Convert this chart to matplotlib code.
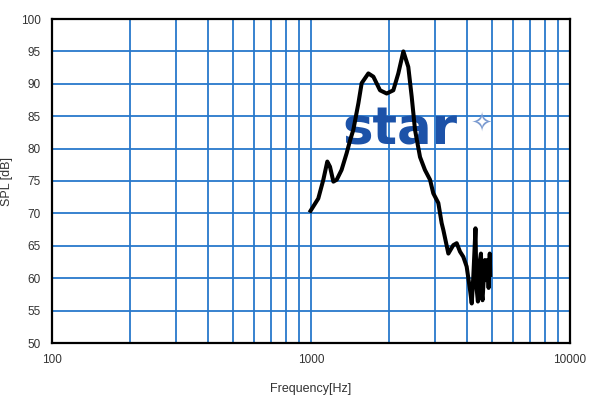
import matplotlib
matplotlib.use("Agg")
import matplotlib.pyplot as plt
from matplotlib.ticker import FixedLocator, NullFormatter, LogLocator

freq = [996, 1067, 1116, 1156, 1184, 1220, 1257, 1312, 1373, 1416, 1457, 1524,
        1569, 1665, 1741, 1847, 1960, 2079, 2173, 2273, 2375, 2448, 2521, 2636,
        2754, 2881, 2966, 3102, 3195, 3245, 3391, 3543, 3652, 3761, 3873, 3990,
        4111, 4174, 4233, 4316, 4352, 4410, 4470, 4531, 4560, 4594, 4690, 4730,
        4800, 4850, 4900, 4920]
spl = [70.4, 72.3, 75.2, 78.0, 77.2, 74.9, 75.2, 76.7, 79.3, 81.3, 82.9, 87.0,
       90.1, 91.6, 91.1, 89.0, 88.5, 89.0, 91.6, 95.0, 92.6, 88.0, 82.9, 78.7,
       76.7, 75.2, 73.1, 71.6, 68.5, 67.4, 63.8, 65.1, 65.4, 64.1, 63.3, 61.8,
       58.2, 56.1, 60.2, 67.7, 58.7, 56.4, 62.3, 63.8, 57.7, 56.6, 62.8, 59.7,
       62.8, 58.5, 63.8, 60.5]

x_ticks = [100, 1000, 10000]
x_labels = ["100", "1000", "10000"]
y_ticks = [50, 55, 60, 65, 70, 75, 80, 85, 90, 95, 100]

grid_color = "#2878cc"
plt.rcParams["font.family"] = ["Liberation Sans", "DejaVu Sans"]

fig = plt.figure(figsize=(6.0, 4.04), dpi=100)
ax = fig.add_axes([52/600, 61/404, 518/600, 324/404])
ax.set_xscale("log")
ax.set_xlim(100, 10000)
ax.set_ylim(50, 100)
ax.xaxis.set_major_locator(FixedLocator(x_ticks))
ax.set_xticklabels(x_labels)
ax.xaxis.set_minor_locator(LogLocator(base=10, subs=range(2, 10)))
ax.xaxis.set_minor_formatter(NullFormatter())
ax.set_yticks(y_ticks)
ax.grid(True, which="both", axis="x", color=grid_color, linewidth=1.3)
ax.grid(True, which="major", axis="y", color=grid_color, linewidth=1.3)
ax.tick_params(which="both", length=0, labelsize=8.5, colors="#333333", pad=8)
for s in ax.spines.values():
    s.set_linewidth(1.6)
    s.set_color("black")
ax.set_axisbelow(True)

ax.text(0.672, 0.655, "star", transform=ax.transAxes, fontsize=37, fontweight="bold",
        color="#1c52a8", ha="center", va="center", family="DejaVu Sans", zorder=1.5)
ax.text(0.83, 0.675, "\u2727", transform=ax.transAxes, fontsize=19,
        color="#7a9ad0", ha="center", va="center", family="DejaVu Sans", zorder=1.5)

ax.plot(freq, spl, color="black", linewidth=2.9, solid_joinstyle="round", zorder=3)

ax.set_xlabel("Frequency[Hz]", fontsize=9, color="#333333", labelpad=12)
ax.set_ylabel("SPL [dB]", fontsize=9, color="#333333", labelpad=6)

fig.savefig("out.png", dpi=100)
